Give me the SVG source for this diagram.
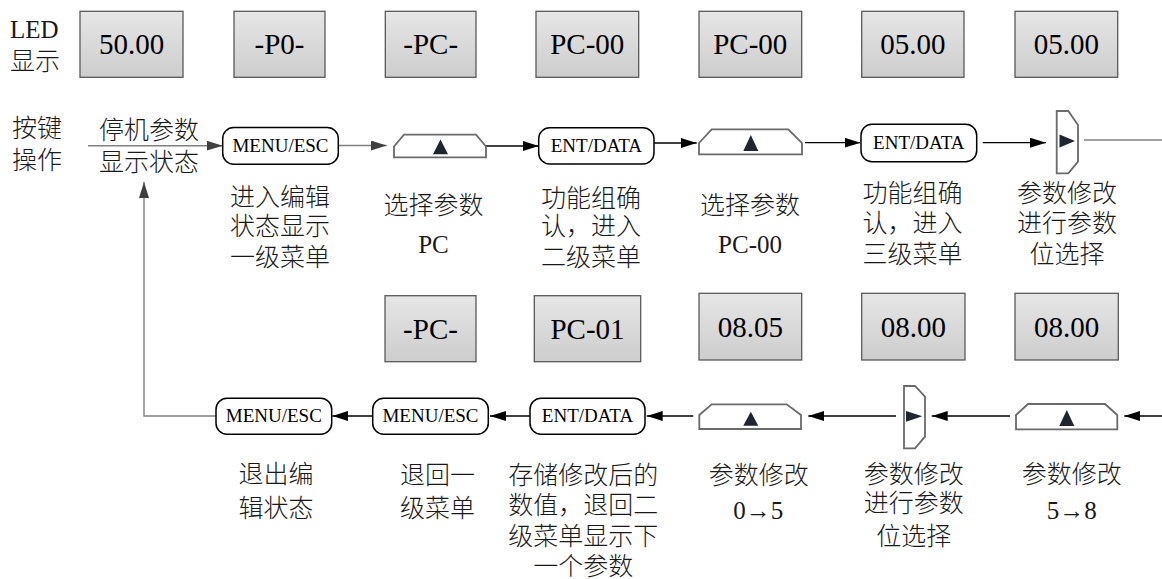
<svg xmlns="http://www.w3.org/2000/svg" width="1162" height="579" viewBox="0 0 1162 579">
<defs>
<linearGradient id="led" x1="0" y1="0" x2="0" y2="1">
<stop offset="0" stop-color="#e6e6e6"/>
<stop offset="1" stop-color="#cdcdcd"/>
</linearGradient>
<marker id="ah" markerUnits="userSpaceOnUse" markerWidth="16" markerHeight="10" refX="16" refY="5" orient="auto">
<path d="M0,0 L16,5 L0,10 z" fill="#000"/>
</marker>
<marker id="ahg" markerUnits="userSpaceOnUse" markerWidth="16" markerHeight="10" refX="16" refY="5" orient="auto">
<path d="M0,0 L16,5 L0,10 z" fill="#404040"/>
</marker>
</defs>
<style>
.led{fill:url(#led);stroke:#5a5a5a;stroke-width:1.3}
.ledt{font-family:"Liberation Serif","Times New Roman",serif;font-size:29px;font-weight:400;fill:#000;text-anchor:middle}
.key{fill:#fff;stroke:#000;stroke-width:1.5}
.keyt{font-family:"Liberation Serif","Times New Roman",serif;font-size:19px;fill:#000;text-anchor:middle}
.btn{fill:#fff;stroke:#6a6a6a;stroke-width:1.8}
.tri{fill:#1f2630}
.lbl{font-family:"Liberation Serif","Times New Roman","Noto Sans CJK SC",serif;font-size:25px;font-weight:300;fill:#1a1a1a;text-anchor:middle}
.lbll{font-family:"Liberation Serif","Times New Roman","Noto Sans CJK SC",serif;font-size:25px;font-weight:300;fill:#1a1a1a}
.cg{fill:none;stroke:#808080;stroke-width:1.4}
.cb{fill:none;stroke:#000;stroke-width:1.3}
</style>
<rect width="1162" height="579" fill="#fff"/>

<g id="labels-left">
<text class="lbll" x="10" y="38">LED</text>
<text class="lbll" x="10" y="70">显示</text>
<text class="lbll" x="12" y="137">按键</text>
<text class="lbll" x="12" y="169">操作</text>
<text class="lbl" x="149" y="139">停机参数</text>
<text class="lbl" x="149" y="171">显示状态</text>
</g>

<g id="led-top">
<g id="led1"><rect class="led" x="80" y="11.3" width="103" height="66"/><text class="ledt" x="131.5" y="54">50.00</text></g>
<g id="led2"><rect class="led" x="234" y="11.3" width="91" height="66"/><text class="ledt" x="279.5" y="54">-P0-</text></g>
<g id="led3"><rect class="led" x="385.3" y="11.3" width="90.7" height="66"/><text class="ledt" x="430.7" y="54">-PC-</text></g>
<g id="led4"><rect class="led" x="536" y="11.3" width="102.7" height="66"/><text class="ledt" x="587.3" y="54">PC-00</text></g>
<g id="led5"><rect class="led" x="699" y="11.3" width="102.7" height="66"/><text class="ledt" x="750.3" y="54">PC-00</text></g>
<g id="led6"><rect class="led" x="861.7" y="11.3" width="102.3" height="66"/><text class="ledt" x="912.8" y="54">05.00</text></g>
<g id="led7"><rect class="led" x="1015" y="11.3" width="102.7" height="66"/><text class="ledt" x="1066.3" y="54">05.00</text></g>
</g>

<g id="led-bottom">
<g id="led8"><rect class="led" x="385" y="295.7" width="91" height="66"/><text class="ledt" x="430.5" y="338.5">-PC-</text></g>
<g id="led9"><rect class="led" x="534.3" y="295.7" width="106.4" height="66"/><text class="ledt" x="587.5" y="338.5">PC-01</text></g>
<g id="led10"><rect class="led" x="699" y="293.3" width="102.7" height="66.7"/><text class="ledt" x="750.3" y="336.5">08.05</text></g>
<g id="led11"><rect class="led" x="861.7" y="293.3" width="103.3" height="66.7"/><text class="ledt" x="913.3" y="336.5">08.00</text></g>
<g id="led12"><rect class="led" x="1015" y="293.3" width="103.3" height="66.7"/><text class="ledt" x="1066.7" y="336.5">08.00</text></g>
</g>

<g id="connectors">
<path class="cg" d="M88,145.7 H222.7" marker-end="url(#ahg)"/>
<path class="cg" d="M338.3,145.5 H386.7" marker-end="url(#ahg)"/>
<path class="cb" d="M486,146 H538.7" marker-end="url(#ah)"/>
<path class="cb" d="M654,143 H696.7" marker-end="url(#ah)"/>
<path class="cb" d="M805,142.7 H860.5" marker-end="url(#ah)"/>
<path class="cb" d="M982.7,142.7 H1046" marker-end="url(#ah)"/>
<path class="cg" d="M1084,140 H1162"/>
<path class="cg" d="M216,416 H144 V182" marker-end="url(#ahg)"/>
<path class="cb" d="M372.7,416 H332.3" marker-end="url(#ah)"/>
<path class="cb" d="M530,416 H490" marker-end="url(#ah)"/>
<path class="cb" d="M693.3,416 H646.7" marker-end="url(#ah)"/>
<path class="cb" d="M896,416 H808.3" marker-end="url(#ah)"/>
<path class="cb" d="M1010,416 H931.7" marker-end="url(#ah)"/>
<path class="cb" d="M1162,416 H1124.3" marker-end="url(#ah)"/>
</g>

<g id="key-menu1"><rect class="key" x="222.7" y="127.5" width="115.6" height="36.8" rx="11"/><text class="keyt" x="280.5" y="151.7">MENU/ESC</text>
<text class="lbl" x="280" y="206">进入编辑</text><text class="lbl" x="280" y="235">状态显示</text><text class="lbl" x="280" y="266">一级菜单</text></g>

<g id="key-up1"><path class="btn" d="M394,157.3 V146.5 L404,134.7 H476 L486,146.5 V157.3 Z"/><path class="tri" d="M440.5,139.5 L448,154.3 L433,154.3 Z"/>
<text class="lbl" x="433.5" y="213.5">选择参数</text><text class="lbl" x="433.5" y="253.3">PC</text></g>

<g id="key-ent1"><rect class="key" x="538.7" y="127.7" width="115.3" height="36.3" rx="11"/><text class="keyt" x="596.4" y="151.8">ENT/DATA</text>
<text class="lbl" x="591" y="206.5">功能组确</text><text class="lbl" x="591" y="235">认，进入</text><text class="lbl" x="591" y="266">二级菜单</text></g>

<g id="key-up2"><path class="btn" d="M699,154.3 V143 L711.7,129.3 H788.3 L802,143 V154.3 Z"/><path class="tri" d="M750.8,135 L758.3,151 L743.3,151 Z"/>
<text class="lbl" x="750" y="213.5">选择参数</text><text class="lbl" x="750" y="253.3">PC-00</text></g>

<g id="key-ent2"><rect class="key" x="861" y="124.3" width="115.7" height="37.4" rx="11"/><text class="keyt" x="918.8" y="148.5">ENT/DATA</text>
<text class="lbl" x="912.5" y="202">功能组确</text><text class="lbl" x="912.5" y="232">认，进入</text><text class="lbl" x="912.5" y="263">三级菜单</text></g>

<g id="key-right1"><path class="btn" d="M1056.7,111 H1068.3 L1078,125 V161.7 L1068.3,173.3 H1056.7 Z"/><path class="tri" d="M1075,141 L1059.5,147.5 L1059.5,134.5 Z"/>
<text class="lbl" x="1067" y="202">参数修改</text><text class="lbl" x="1067" y="232">进行参数</text><text class="lbl" x="1067" y="263">位选择</text></g>

<g id="key-menu2"><rect class="key" x="216" y="398.3" width="115.7" height="36" rx="11"/><text class="keyt" x="273.8" y="422.3">MENU/ESC</text>
<text class="lbl" x="276" y="482.5">退出编</text><text class="lbl" x="276" y="516.5">辑状态</text></g>

<g id="key-menu3"><rect class="key" x="372.7" y="398.3" width="115.6" height="36" rx="11"/><text class="keyt" x="430.5" y="422.3">MENU/ESC</text>
<text class="lbl" x="437.5" y="483.5">退回一</text><text class="lbl" x="437.5" y="516.5">级菜单</text></g>

<g id="key-ent3"><rect class="key" x="530" y="398.3" width="115" height="36" rx="11"/><text class="keyt" x="587.5" y="422.3">ENT/DATA</text>
<text class="lbl" x="583.3" y="484">存储修改后的</text><text class="lbl" x="583.3" y="514">数值，退回二</text><text class="lbl" x="583.3" y="544.5">级菜单显示下</text><text class="lbl" x="583.3" y="575">一个参数</text></g>

<g id="key-up3"><path class="btn" d="M699.3,429 V415 L711.7,404.3 H786.7 L801,415 V429 Z"/><path class="tri" d="M750.8,411.7 L758.3,425.7 L743.3,425.7 Z"/>
<text class="lbl" x="758.8" y="483.5">参数修改</text><text class="lbl" x="758.3" y="519.3">0→5</text></g>

<g id="key-right2"><path class="btn" d="M904,386 H915 L925,396.7 V436.7 L915,448.3 H904 Z"/><path class="tri" d="M922.3,416.3 L906,421.7 L906,411 Z"/>
<text class="lbl" x="913.7" y="482.5">参数修改</text><text class="lbl" x="913.7" y="512">进行参数</text><text class="lbl" x="913.7" y="545">位选择</text></g>

<g id="key-up4"><path class="btn" d="M1016,429.3 V415 L1028,404 H1105 L1117.3,415 V429.3 Z"/><path class="tri" d="M1066.8,410 L1074.3,426 L1059.3,426 Z"/>
<text class="lbl" x="1071.7" y="482.5">参数修改</text><text class="lbl" x="1071.7" y="519.3">5→8</text></g>
</svg>
